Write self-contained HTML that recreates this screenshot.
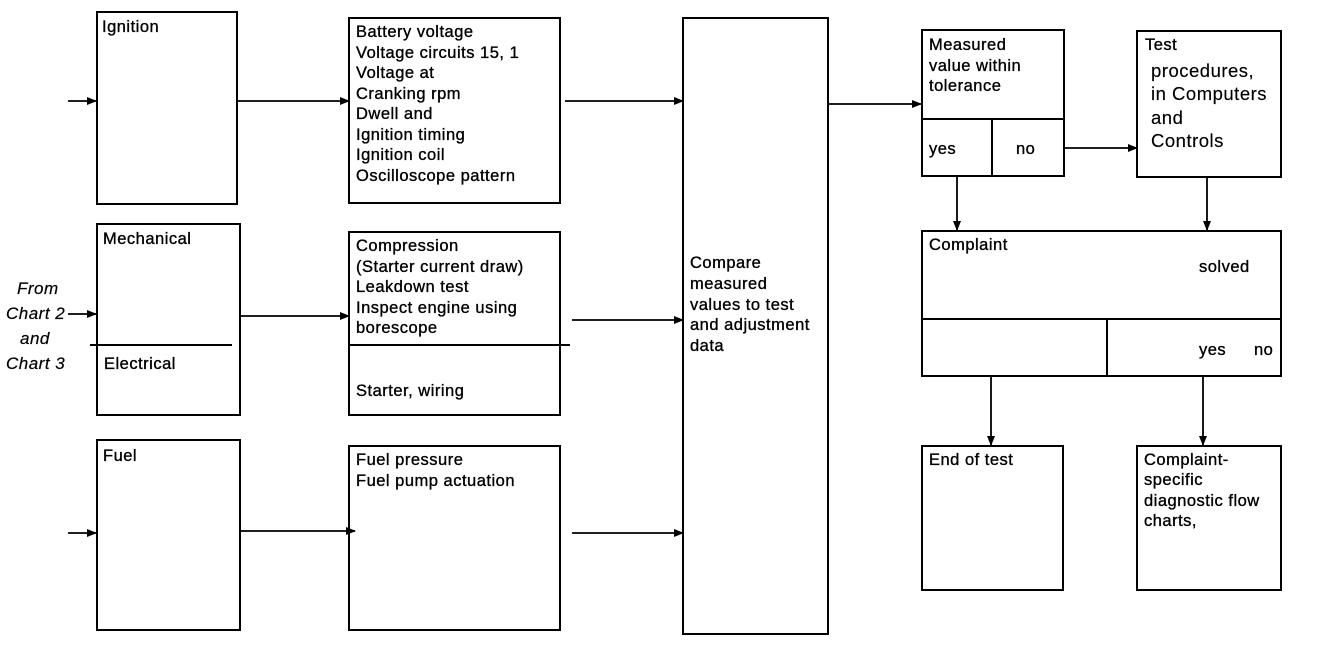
<!DOCTYPE html>
<html><head><style>html,body{margin:0;padding:0;background:#fff}svg{display:block}</style></head><body>
<svg width="1328" height="656" viewBox="0 0 1328 656" xmlns="http://www.w3.org/2000/svg" font-family="Liberation Sans, Arial, sans-serif" font-size="16.5" fill="#000">
<defs><marker id="a" markerWidth="10" markerHeight="8" refX="9" refY="4" orient="auto" markerUnits="userSpaceOnUse"><path d="M0,0 L10,4 L0,8 z" fill="#000"/></marker></defs>
<g fill="none" stroke="#000" stroke-width="2">
<rect x="97" y="12" width="140" height="192"/>
<rect x="97" y="224" width="143" height="191"/>
<line x1="90" y1="345" x2="232" y2="345"/>
<rect x="97" y="440" width="143" height="190"/>
<rect x="349" y="18" width="211" height="185"/>
<rect x="349" y="232" width="211" height="183"/>
<line x1="349" y1="345" x2="570" y2="345"/>
<rect x="349" y="446" width="211" height="184"/>
<rect x="683" y="18" width="145" height="616"/>
<rect x="922" y="30" width="142" height="146"/>
<line x1="922" y1="119" x2="1064" y2="119"/>
<line x1="992" y1="119" x2="992" y2="176"/>
<rect x="1137" y="31" width="144" height="146"/>
<rect x="922" y="231" width="359" height="145"/>
<line x1="922" y1="319" x2="1281" y2="319"/>
<line x1="1107" y1="319" x2="1107" y2="376"/>
<rect x="922" y="446" width="141" height="144"/>
<rect x="1137" y="446" width="144" height="144"/>
</g>
<g stroke="#000" stroke-width="1.8" marker-end="url(#a)">
<line x1="68" y1="101" x2="96" y2="101"/>
<line x1="68" y1="314" x2="96" y2="314"/>
<line x1="68" y1="533" x2="96" y2="533"/>
<line x1="237" y1="101" x2="349" y2="101"/>
<line x1="240" y1="316" x2="349" y2="316"/>
<line x1="240" y1="531" x2="355" y2="531"/>
<line x1="565" y1="101" x2="683" y2="101"/>
<line x1="572" y1="320" x2="683" y2="320"/>
<line x1="572" y1="533" x2="683" y2="533"/>
<line x1="828" y1="104" x2="921" y2="104"/>
<line x1="1064" y1="148" x2="1137" y2="148"/>
<line x1="957" y1="176" x2="957" y2="230"/>
<line x1="1207" y1="177" x2="1207" y2="230"/>
<line x1="991" y1="376" x2="991" y2="445"/>
<line x1="1203" y1="376" x2="1203" y2="445"/>
</g>
<g stroke="#000" stroke-width="0.35" letter-spacing="0.5">
<text x="102" y="32">Ignition</text>
<text x="103" y="244">Mechanical</text>
<text x="104" y="369">Electrical</text>
<text x="103" y="461">Fuel</text>
<g font-style="italic" font-size="17" stroke-width="0.2">
<text x="17" y="294">From</text>
<text x="6" y="319">Chart 2</text>
<text x="20" y="344">and</text>
<text x="6" y="369">Chart 3</text>
</g>
<text x="356" y="37">Battery voltage</text>
<text x="356" y="58">Voltage circuits 15, 1</text>
<text x="356" y="78">Voltage at</text>
<text x="356" y="99">Cranking rpm</text>
<text x="356" y="119">Dwell and</text>
<text x="356" y="140">Ignition timing</text>
<text x="356" y="160">Ignition coil</text>
<text x="356" y="181">Oscilloscope pattern</text>
<text x="356" y="251">Compression</text>
<text x="356" y="272">(Starter current draw)</text>
<text x="356" y="292">Leakdown test</text>
<text x="356" y="313">Inspect engine using</text>
<text x="356" y="333">borescope</text>
<text x="356" y="396">Starter, wiring</text>
<text x="356" y="465">Fuel pressure</text>
<text x="356" y="486">Fuel pump actuation</text>
<text x="690" y="268">Compare</text>
<text x="690" y="289">measured</text>
<text x="690" y="310">values to test</text>
<text x="690" y="330">and adjustment</text>
<text x="690" y="351">data</text>
<text x="929" y="50">Measured</text>
<text x="929" y="71">value within</text>
<text x="929" y="91">tolerance</text>
<text x="929" y="154">yes</text>
<text x="1016" y="154">no</text>
<text x="1145" y="50">Test</text>
<g font-size="18.5" stroke-width="0.15"><text x="1151" y="77">procedures,</text>
<text x="1151" y="100">in Computers</text>
<text x="1151" y="124">and</text>
<text x="1151" y="147">Controls</text></g>
<text x="929" y="250">Complaint</text>
<text x="1199" y="272">solved</text>
<text x="1199" y="355">yes</text>
<text x="1254" y="355">no</text>
<text x="929" y="465">End of test</text>
<text x="1144" y="465">Complaint-</text>
<text x="1144" y="485">specific</text>
<text x="1144" y="506">diagnostic flow</text>
<text x="1144" y="526">charts,</text>
</g>
</svg>
</body></html>
